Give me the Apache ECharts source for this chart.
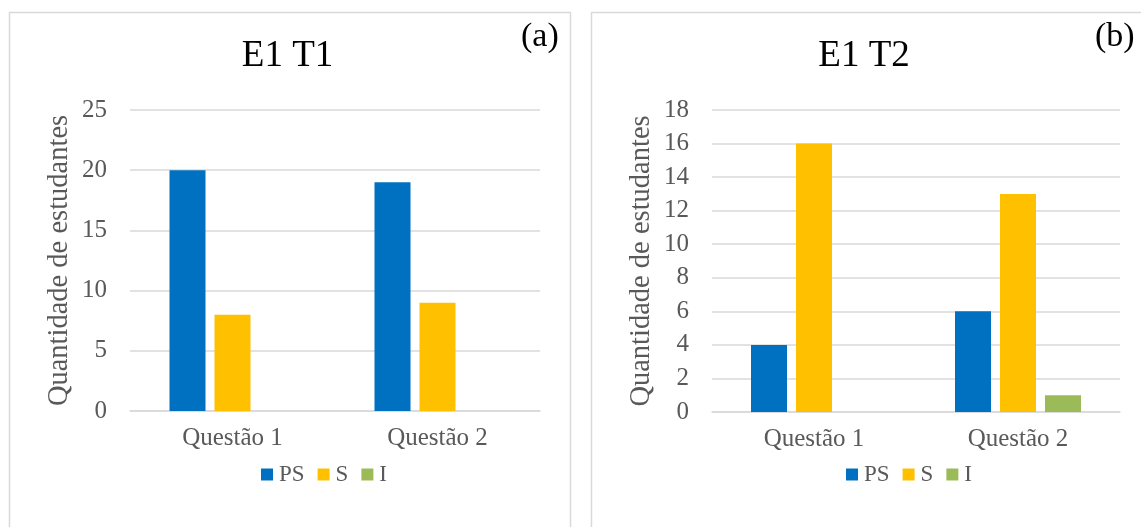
<!DOCTYPE html>
<html>
<head>
<meta charset="utf-8">
<script src="https://cdn.jsdelivr.net/npm/echarts@6/dist/echarts.min.js"></script>
<style>
  html, body { margin: 0; padding: 0; background: #fff; }
  #chart { width: 1141px; height: 527px; }
</style>
</head>
<body>
<div id="chart"></div>
<script>
// ---- data ----
const categories = ['Questão 1', 'Questão 2'];
const seriesNames = ['PS', 'S', 'I'];
const panelATitle = 'E1 T1';
const panelBTitle = 'E1 T2';
const panelAPS = [20, 19];
const panelAS = [8, 9];
const panelAI = [0, 0];
const panelBPS = [4, 6];
const panelBS = [16, 13];
const panelBI = [0, 1];
const yAxisName = 'Quantidade de estudantes';

const colors = ['#0070C0', '#FFC000', '#9BBB59'];
const FONT = 'Liberation Serif';
const grey = '#595959';
const lineGrey = '#d9d9d9';

const chart = echarts.init(document.getElementById('chart'), null, { renderer: 'canvas' });

function xAx(gridIndex) {
  return {
    type: 'category', gridIndex, data: categories,
    axisLine: { lineStyle: { color: lineGrey, width: 1.5 } },
    axisTick: { show: false },
    axisLabel: { color: grey, fontFamily: FONT, fontSize: 25, margin: 15 }
  };
}
function yAx(gridIndex, max, interval) {
  return {
    type: 'value', gridIndex, min: 0, max, interval,
    name: yAxisName, nameLocation: 'middle', nameRotate: 90, nameGap: 56,
    nameTextStyle: { color: grey, fontFamily: FONT, fontSize: 28.5 },
    axisLine: { show: false }, axisTick: { show: false },
    axisLabel: { color: grey, fontFamily: FONT, fontSize: 25, margin: 23 },
    splitLine: { lineStyle: { color: lineGrey, width: 1.5 } }
  };
}
function bar(name, data, idx, color) {
  return {
    type: 'bar', name, data, xAxisIndex: idx, yAxisIndex: idx,
    barWidth: 36, barGap: '25%',
    itemStyle: { color }
  };
}
function legend(left) {
  return {
    data: seriesNames, left, top: 458, icon: 'rect',
    itemWidth: 12, itemHeight: 12, itemGap: 13,
    textStyle: { color: grey, fontFamily: FONT, fontSize: 23, padding: [0, 0, 0, 1] }
  };
}

const option = {
  animation: false,
  color: colors,
  grid: [
    { left: 130, top: 110, width: 410, height: 301 },
    { left: 712, top: 110, width: 408, height: 302 }
  ],
  xAxis: [xAx(0), xAx(1)],
  yAxis: [yAx(0, 25, 5), yAx(1, 18, 2)],
  legend: [legend(256), legend(841)],
  series: [
    bar(seriesNames[0], panelAPS, 0, colors[0]),
    bar(seriesNames[1], panelAS, 0, colors[1]),
    bar(seriesNames[2], panelAI, 0, colors[2]),
    bar(seriesNames[0], panelBPS, 1, colors[0]),
    bar(seriesNames[1], panelBS, 1, colors[1]),
    bar(seriesNames[2], panelBI, 1, colors[2])
  ],
  graphic: [
    { type: 'rect', shape: { x: 9.5, y: 12.5, width: 561, height: 530 }, style: { fill: null, stroke: lineGrey, lineWidth: 1.5 }, z: -1 },
    { type: 'rect', shape: { x: 591.5, y: 12.5, width: 600, height: 530 }, style: { fill: null, stroke: lineGrey, lineWidth: 1.5 }, z: -1 },
    { type: 'text', x: 287.5, y: 56, style: { text: panelATitle, fill: '#000', font: '37px "Liberation Serif"', textAlign: 'center', textVerticalAlign: 'middle' } },
    { type: 'text', x: 864, y: 56, style: { text: panelBTitle, fill: '#000', font: '37px "Liberation Serif"', textAlign: 'center', textVerticalAlign: 'middle' } },
    { type: 'text', x: 521, y: 37, style: { text: '(a)', fill: '#000', font: '34px "Liberation Serif"', textAlign: 'left', textVerticalAlign: 'middle' } },
    { type: 'text', x: 1095, y: 37, style: { text: '(b)', fill: '#000', font: '34px "Liberation Serif"', textAlign: 'left', textVerticalAlign: 'middle' } }
  ]
};
chart.setOption(option);
</script>
</body>
</html>
